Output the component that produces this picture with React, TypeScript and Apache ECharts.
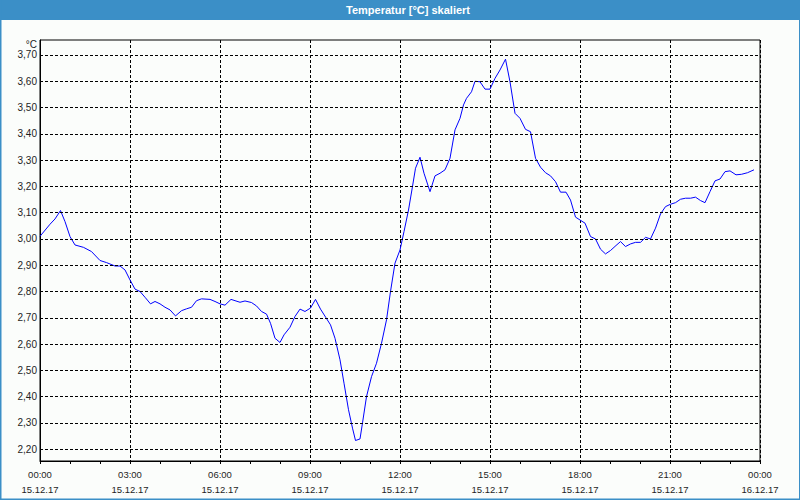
import React, { useEffect, useRef } from "react";
import * as echarts from "echarts";

const times: string[] = [
  "00:00","00:20","00:30","00:41","00:50","01:00","01:10","01:27","01:43","02:00",
  "02:13","02:30","02:40","02:50","03:00","03:10","03:20","03:30","03:41","03:50",
  "04:00","04:10","04:20","04:31","04:43","04:53","05:03","05:13","05:23","05:40",
  "05:50","06:00","06:10","06:22","06:40","06:50","07:03","07:13","07:23","07:33",
  "07:41","07:50","08:00","08:08","08:20","08:30","08:40","08:50","09:01","09:11",
  "09:21","09:32","09:41","09:50","10:00","10:08","10:17","10:25","10:31","10:40",
  "10:45","10:53","11:03","11:13","11:23","11:33","11:41","11:50","12:00","12:08",
  "12:17","12:25","12:31","12:40","12:48","13:00","13:10","13:20","13:30","13:40",
  "13:50","14:00","14:07","14:13","14:23","14:30","14:40","14:50","15:00","15:10",
  "15:20","15:31","15:40","15:50","16:00","16:11","16:21","16:31","16:41","16:51",
  "17:01","17:11","17:21","17:32","17:41","17:51","18:00","18:10","18:21","18:31",
  "18:41","18:51","19:01","19:12","19:21","19:31","19:41","19:51","20:01","20:11",
  "20:21","20:31","20:41","20:51","21:01","21:11","21:21","21:31","21:41","21:51",
  "22:01","22:10","22:20","22:30","22:40","22:50","23:00","23:12","23:23","23:35",
  "23:48"
];

const temps: number[] = [
  3.01, 3.056, 3.076, 3.108, 3.066, 3.009, 2.977, 2.968, 2.952, 2.918,
  2.91, 2.897, 2.897, 2.882, 2.844, 2.809, 2.8, 2.778, 2.753, 2.762,
  2.753, 2.74, 2.73, 2.707, 2.727, 2.734, 2.74, 2.765, 2.772, 2.77,
  2.762, 2.753, 2.748, 2.77, 2.759, 2.764, 2.758, 2.745, 2.724, 2.714,
  2.679, 2.622, 2.606, 2.635, 2.664, 2.705, 2.733, 2.724, 2.737, 2.77,
  2.733, 2.7, 2.673, 2.622, 2.54, 2.451, 2.35, 2.28, 2.233, 2.239,
  2.3, 2.4, 2.476, 2.527, 2.603, 2.692, 2.8, 2.908, 2.958, 3.028,
  3.11, 3.2, 3.269, 3.311, 3.25, 3.18, 3.24, 3.25, 3.263, 3.307,
  3.415, 3.459, 3.51, 3.535, 3.56, 3.6, 3.598, 3.57, 3.57, 3.611,
  3.643, 3.684, 3.598, 3.478, 3.459, 3.417, 3.408, 3.307, 3.273, 3.252,
  3.24, 3.218, 3.178, 3.178, 3.148, 3.083, 3.072, 3.06, 3.009, 3.0,
  2.961, 2.943, 2.956, 2.975, 2.99, 2.971, 2.981, 2.987, 2.987, 3.006,
  3.0, 3.041, 3.095, 3.123, 3.132, 3.138, 3.151, 3.155, 3.155, 3.159,
  3.146, 3.138, 3.18, 3.221, 3.228, 3.256, 3.259, 3.244, 3.246, 3.252,
  3.263
];

const timeLabels: string[] = ["00:00","03:00","06:00","09:00","12:00","15:00","18:00","21:00","00:00"];
const dateLabels: string[] = ["15.12.17","15.12.17","15.12.17","15.12.17","15.12.17","15.12.17","15.12.17","15.12.17","16.12.17"];
const yTicks: number[] = [2.2, 2.3, 2.4, 2.5, 2.6, 2.7, 2.8, 2.9, 3.0, 3.1, 3.2, 3.3, 3.4, 3.5, 3.6, 3.7];

const titleText = "Temperatur [°C] skaliert";
const unitText = "°C";

const toHours = (t: string) => {
  const [h, m] = t.split(":").map(Number);
  return h + m / 60;
};

export default function App() {
  const ref = useRef<HTMLDivElement>(null);
  useEffect(() => {
    if (!ref.current) return;
    const chart = echarts.init(ref.current, undefined, { renderer: "svg" });
    const font = "'Liberation Sans', Arial, sans-serif";
    const data = times.map((t, i) => [toHours(t), temps[i]]);
    chart.setOption({
      animation: false,
      backgroundColor: "#fbfdfb",
      grid: {
        left: 40,
        right: 40,
        top: 40,
        bottom: 39,
        show: true,
        borderColor: "#000",
        borderWidth: 1,
        backgroundColor: "transparent",
      },
      xAxis: {
        type: "value",
        min: 0,
        max: 24,
        interval: 3,
        axisLine: { show: true, lineStyle: { color: "#000", width: 1 } },
        axisTick: { show: true, length: 3, lineStyle: { color: "#000" } },
        minorTick: { show: true, splitNumber: 3, length: 3, lineStyle: { color: "#000" } },
        splitLine: { show: true, lineStyle: { color: "#000", width: 1, type: [3, 2] } },
        axisLabel: {
          margin: 6,
          fontFamily: font,
          fontSize: 9.5,
          lineHeight: 15,
          color: "#1e1e1e",
          formatter: (v: number) => {
            const i = Math.round(v / 3);
            return timeLabels[i] + "\n" + dateLabels[i];
          },
        },
      },
      yAxis: {
        type: "value",
        min: 2.155,
        max: 3.757,
        axisLine: { show: true, lineStyle: { color: "#000", width: 1 } },
        axisTick: { show: false },
        splitLine: { show: false },
        axisLabel: {
          customValues: yTicks,
          margin: 3,
          fontFamily: font,
          fontSize: 10,
          color: "#1e1e1e",
          formatter: (v: number) => v.toFixed(2).replace(".", ","),
        },
      },
      graphic: [
        { type: "rect", shape: { x: 0, y: 0, width: 800, height: 20 }, style: { fill: "#3b8fc7" }, silent: true },
        { type: "rect", shape: { x: 0, y: 0, width: 1.5, height: 500 }, style: { fill: "#3b8fc7" }, silent: true },
        { type: "rect", shape: { x: 799, y: 0, width: 1, height: 500 }, style: { fill: "#3b8fc7" }, silent: true },
        { type: "rect", shape: { x: 0, y: 498.5, width: 800, height: 1.5 }, style: { fill: "#3b8fc7" }, silent: true },
        {
          type: "text",
          x: 408,
          y: 9.5,
          style: {
            text: titleText,
            fill: "#fff",
            font: "bold 11px " + font,
            textAlign: "center",
            textVerticalAlign: "middle",
          },
          silent: true,
        },
        {
          type: "text",
          x: 37,
          y: 44,
          style: {
            text: unitText,
            fill: "#1e1e1e",
            font: "10px " + font,
            textAlign: "right",
            textVerticalAlign: "middle",
          },
          silent: true,
        },
      ],
      series: [
        {
          type: "line",
          data,
          showSymbol: false,
          symbol: "none",
          lineStyle: { color: "#0000ff", width: 1 },
          z: 3,
          markLine: {
            silent: true,
            symbol: ["none", "none"],
            label: { show: false },
            animation: false,
            lineStyle: { color: "#000", width: 1, type: [3, 2] },
            emphasis: { disabled: true },
            data: yTicks.map((v) => ({ yAxis: v })),
          },
        },
      ],
    });
    return () => chart.dispose();
  }, []);
  return (
    <div
      ref={ref}
      style={{ position: "fixed", left: 0, top: 0, width: 800, height: 500 }}
    />
  );
}
